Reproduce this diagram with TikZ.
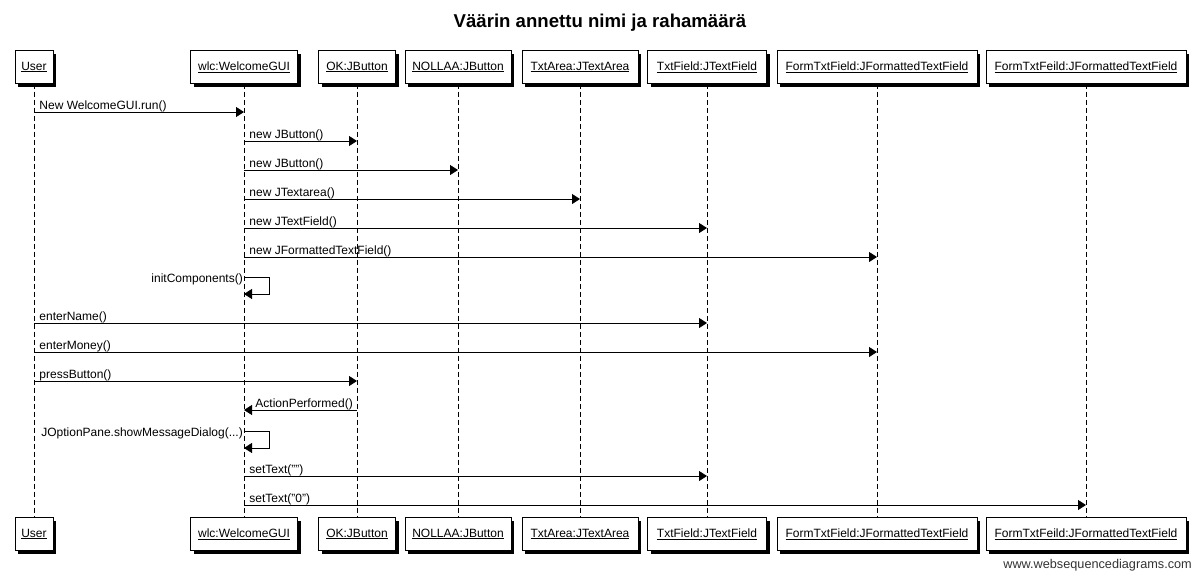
\documentclass[tikz,border=0pt]{standalone}
\usepackage{fontspec}
\setmainfont{Liberation Sans}
\usetikzlibrary{arrows.meta,shadows}

\begin{document}
\begin{tikzpicture}[
    x=1pt, y=-1pt,
    font=\fontsize{12}{14}\selectfont,
    obj/.style={rectangle, draw=black, fill=white, line width=0.8pt, minimum height=33pt, inner xsep=2pt, drop shadow={shadow xshift=3pt, shadow yshift=-3pt, fill=black, opacity=1}},
    lifeline/.style={draw=black, line width=0.8pt, dash pattern=on 5pt off 3pt},
    msg/.style={draw=black, line width=0.9pt, -{Triangle[length=8pt, width=10pt]}},
    lbl/.style={anchor=base west, inner sep=0pt, xshift=5pt, yshift=3pt},
    selflbl/.style={anchor=east, inner sep=0pt, xshift=-1pt, yshift=-2pt}
]
\useasboundingbox (0,0) rectangle (1200,574);

% Title
\node[font=\bfseries\fontsize{18.6}{20}\selectfont] (title) at (600,23) {Väärin annettu nimi ja rahamäärä};

% Objects - top row
\node[obj, minimum width=38pt] (user) at (34,67) {\underline{User}};
\node[obj, minimum width=107pt] (wlc) at (244,67) {\underline{wlc:WelcomeGUI}};
\node[obj, minimum width=77pt] (ok) at (357,67) {\underline{OK:JButton}};
\node[obj, minimum width=106pt] (nollaa) at (458,67) {\underline{NOLLAA:JButton}};
\node[obj, minimum width=116pt] (txtarea) at (580,67) {\underline{TxtArea:JTextArea}};
\node[obj, minimum width=119pt] (txtfield) at (707,67) {\underline{TxtField:JTextField}};
\node[obj, minimum width=200pt] (formfield) at (877,67) {\underline{FormTxtField:JFormattedTextField}};
\node[obj, minimum width=200pt] (formfeild) at (1086,67) {\underline{FormTxtFeild:JFormattedTextField}};

% Objects - bottom row
\node[obj, minimum width=38pt] (userB) at (34,534) {\underline{User}};
\node[obj, minimum width=107pt] (wlcB) at (244,534) {\underline{wlc:WelcomeGUI}};
\node[obj, minimum width=77pt] (okB) at (357,534) {\underline{OK:JButton}};
\node[obj, minimum width=106pt] (nollaaB) at (458,534) {\underline{NOLLAA:JButton}};
\node[obj, minimum width=116pt] (txtareaB) at (580,534) {\underline{TxtArea:JTextArea}};
\node[obj, minimum width=119pt] (txtfieldB) at (707,534) {\underline{TxtField:JTextField}};
\node[obj, minimum width=200pt] (formfieldB) at (877,534) {\underline{FormTxtField:JFormattedTextField}};
\node[obj, minimum width=200pt] (formfeildB) at (1086,534) {\underline{FormTxtFeild:JFormattedTextField}};

% Lifelines
\draw[lifeline] (user.south) -- (userB.north);
\draw[lifeline] (wlc.south) -- (wlcB.north);
\draw[lifeline] (ok.south) -- (okB.north);
\draw[lifeline] (nollaa.south) -- (nollaaB.north);
\draw[lifeline] (txtarea.south) -- (txtareaB.north);
\draw[lifeline] (txtfield.south) -- (txtfieldB.north);
\draw[lifeline] (formfield.south) -- (formfieldB.north);
\draw[lifeline] (formfeild.south) -- (formfeildB.north);

% Message rows
\coordinate (r1) at (0,112);
\coordinate (r2) at (0,141);
\coordinate (r3) at (0,170);
\coordinate (r4) at (0,199);
\coordinate (r5) at (0,228);
\coordinate (r6) at (0,257);
\coordinate (r7) at (0,277);
\coordinate (r8) at (0,323);
\coordinate (r9) at (0,352);
\coordinate (r10) at (0,381);
\coordinate (r11) at (0,410);
\coordinate (r12) at (0,431);
\coordinate (r13) at (0,476);
\coordinate (r14) at (0,505);

% Creating the GUI
\draw[msg] (user |- r1) -- node[lbl, pos=0] {New WelcomeGUI.run()} (wlc |- r1);
\draw[msg] (wlc |- r2) -- node[lbl, pos=0] {new JButton()} (ok |- r2);
\draw[msg] (wlc |- r3) -- node[lbl, pos=0] {new JButton()} (nollaa |- r3);
\draw[msg] (wlc |- r4) -- node[lbl, pos=0] {new JTextarea()} (txtarea |- r4);
\draw[msg] (wlc |- r5) -- node[lbl, pos=0] {new JTextField()} (txtfield |- r5);
\draw[msg] (wlc |- r6) -- node[lbl, pos=0] {new JFormattedTextField()} (formfield |- r6);

% Self call
\draw[msg] (wlc |- r7) -- ++(25,0) -- ++(0,17) -- ++(-25,0);
\node[selflbl] (init) at (wlc |- r7) {initComponents()};

% User input
\draw[msg] (user |- r8) -- node[lbl, pos=0] {enterName()} (txtfield |- r8);
\draw[msg] (user |- r9) -- node[lbl, pos=0] {enterMoney()} (formfield |- r9);
\draw[msg] (user |- r10) -- node[lbl, pos=0] {pressButton()} (ok |- r10);
\draw[msg] (ok |- r11) -- node[lbl, pos=1, xshift=6pt] {ActionPerformed()} (wlc |- r11);

% Dialog
\draw[msg] (wlc |- r12) -- ++(25,0) -- ++(0,17) -- ++(-25,0);
\node[selflbl] (dialog) at (wlc |- r12) {JOptionPane.showMessageDialog(...)};

% Reset fields
\draw[msg] (wlc |- r13) -- node[lbl, pos=0] {setText("")} (txtfield |- r13);
\draw[msg] (wlc |- r14) -- node[lbl, pos=0] {setText("0")} (formfeild |- r14);

% Footer
\node[anchor=east, inner sep=0pt, text=black!80, font=\fontsize{12.7}{14}\selectfont] (credit) at (1192,565) {www.websequencediagrams.com};

\end{tikzpicture}
\end{document}
